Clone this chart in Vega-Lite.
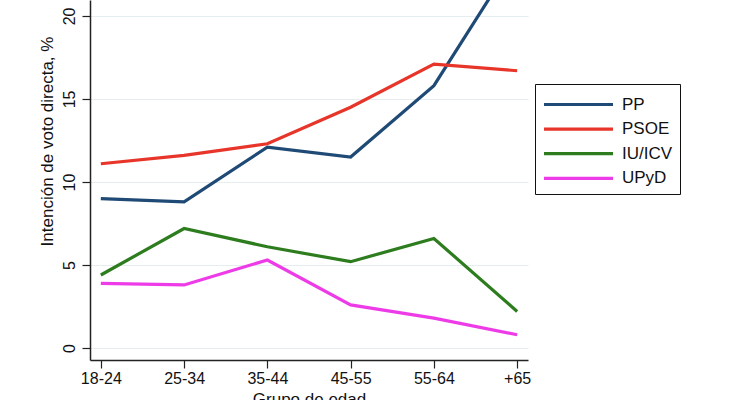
{
  "$schema": "https://vega.github.io/schema/vega-lite/v6.json",
  "autosize": {"type": "none"},
  "width": 438,
  "height": 360,
  "padding": {"left": 90, "top": 0, "right": 202, "bottom": 40},
  "background": "white",
  "config": {
    "view": {"stroke": null},
    "font": "Liberation Sans",
    "axis": {
      "domainColor": "#222222",
      "domainWidth": 1.5,
      "tickColor": "#222222",
      "tickWidth": 1.2,
      "tickSize": 8,
      "labelFont": "Liberation Sans",
      "labelFontSize": 16,
      "labelColor": "#111111",
      "titleFont": "Liberation Sans",
      "titleFontSize": 17,
      "titleFontWeight": "normal",
      "titleColor": "#111111"
    }
  },
  "data": {
    "values": [
      {"grupo": "18-24", "partido": "PP", "valor": 9.0},
      {"grupo": "25-34", "partido": "PP", "valor": 8.8},
      {"grupo": "35-44", "partido": "PP", "valor": 12.1},
      {"grupo": "45-55", "partido": "PP", "valor": 11.5},
      {"grupo": "55-64", "partido": "PP", "valor": 15.8},
      {"grupo": "+65", "partido": "PP", "valor": 23.7},
      {"grupo": "18-24", "partido": "PSOE", "valor": 11.1},
      {"grupo": "25-34", "partido": "PSOE", "valor": 11.6},
      {"grupo": "35-44", "partido": "PSOE", "valor": 12.3},
      {"grupo": "45-55", "partido": "PSOE", "valor": 14.5},
      {"grupo": "55-64", "partido": "PSOE", "valor": 17.1},
      {"grupo": "+65", "partido": "PSOE", "valor": 16.7},
      {"grupo": "18-24", "partido": "IU/ICV", "valor": 4.4},
      {"grupo": "25-34", "partido": "IU/ICV", "valor": 7.2},
      {"grupo": "35-44", "partido": "IU/ICV", "valor": 6.1},
      {"grupo": "45-55", "partido": "IU/ICV", "valor": 5.2},
      {"grupo": "55-64", "partido": "IU/ICV", "valor": 6.6},
      {"grupo": "+65", "partido": "IU/ICV", "valor": 2.2},
      {"grupo": "18-24", "partido": "UPyD", "valor": 3.9},
      {"grupo": "25-34", "partido": "UPyD", "valor": 3.8},
      {"grupo": "35-44", "partido": "UPyD", "valor": 5.3},
      {"grupo": "45-55", "partido": "UPyD", "valor": 2.6},
      {"grupo": "55-64", "partido": "UPyD", "valor": 1.8},
      {"grupo": "+65", "partido": "UPyD", "valor": 0.8}
    ]
  },
  "mark": {"type": "line", "strokeWidth": 3.2, "clip": true},
  "encoding": {
    "x": {
      "field": "grupo",
      "type": "ordinal",
      "sort": ["18-24", "25-34", "35-44", "45-55", "55-64", "+65"],
      "scale": {"type": "point", "padding": 0.13},
      "axis": {
        "title": "Grupo de edad",
        "labelAngle": 0,
        "labelPadding": 2,
        "titleY": 44,
        "titleBaseline": "alphabetic",
        "grid": false
      }
    },
    "y": {
      "field": "valor",
      "type": "quantitative",
      "scale": {"domain": [-0.72, 20.96], "nice": false, "zero": false},
      "axis": {
        "title": "Intención de voto directa, %",
        "values": [0, 5, 10, 15, 20],
        "labelAngle": -90,
        "labelPadding": 5,
        "grid": true,
        "gridColor": "#e4eef0",
        "gridWidth": 1.2,
        "titleAngle": -90,
        "titleX": -43,
        "titleY": 141,
        "titleAlign": "center",
        "titleBaseline": "middle"
      }
    },
    "color": {
      "field": "partido",
      "type": "nominal",
      "scale": {
        "domain": ["PP", "PSOE", "IU/ICV", "UPyD"],
        "range": ["#1f4a75", "#e8352a", "#2d7d1f", "#ee3be8"]
      },
      "legend": {
        "title": null,
        "orient": "none",
        "legendX": 445,
        "legendY": 84,
        "strokeColor": "#111111",
        "padding": 7,
        "symbolType": "M-1,0H5",
        "symbolSize": 529,
        "symbolStrokeWidth": 3.2,
        "labelFont": "Liberation Sans",
        "labelFontSize": 17,
        "labelColor": "#111111",
        "labelOffset": 53,
        "rowPadding": 2.6
      }
    }
  }
}
